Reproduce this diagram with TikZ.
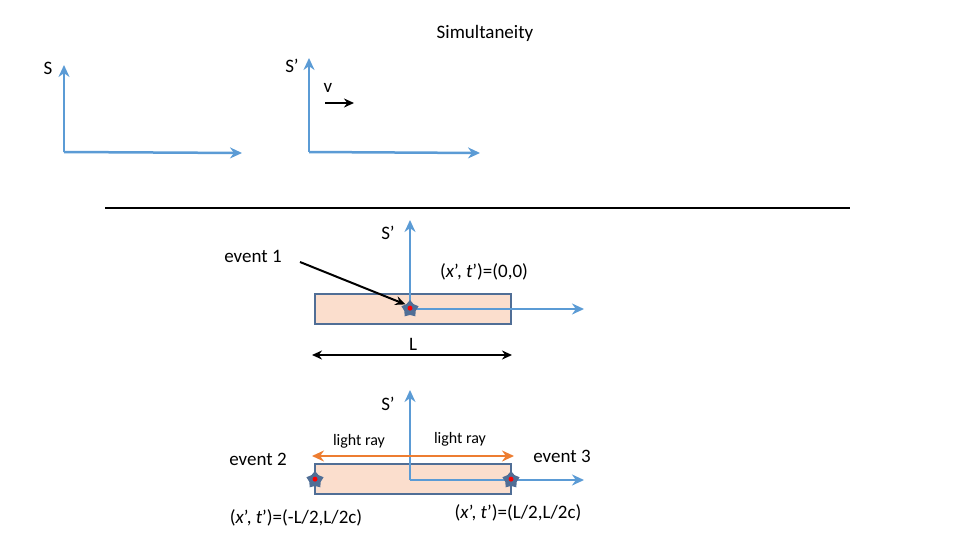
\documentclass[tikz,border=0pt]{standalone}
\usepackage{fontspec}
\setmainfont{Carlito}
\usetikzlibrary{arrows.meta,shapes.geometric}
\definecolor{ax}{RGB}{91,155,213}
\definecolor{peach}{RGB}{251,222,205}
\definecolor{bord}{RGB}{80,110,150}
\definecolor{org}{RGB}{237,125,49}
\tikzset{axis/.style={ax,line width=2.5pt,-{Stealth[length=12pt,width=11pt]}},
blk/.style={black,line width=2pt,-{Stealth[length=10pt,width=9pt]}},
lbl/.style={font=\fontsize{19}{22}\selectfont,inner sep=0pt},
sml/.style={font=\fontsize{16}{18}\selectfont,inner sep=0pt},
bar/.style={draw=bord,fill=peach,line width=1.5pt},
ev/.style={star,star points=5,fill=bord,minimum size=18pt,inner sep=0pt,
 path picture={\fill[red](path picture bounding box.center) circle(2.5pt);}}}
\newcommand{\xt}{(\textit{x}’, \textit{t}’)}
\begin{document}
\begin{tikzpicture}[x=1pt,y=-1pt]
\useasboundingbox (0,0) rectangle (960,540);
\node[lbl] (title) at (485,33) {Simultaneity};
\coordinate (o1) at (64,152);
\coordinate (o1y) at (64,65); \coordinate (o1x) at (242,153);
\draw[axis] (o1) -- (o1y); \draw[axis] (o1) -- (o1x);
\node[lbl] (s1) at (48,68) {S};
\coordinate (o2) at (309,152);
\coordinate (o2y) at (309,58); \coordinate (o2x) at (480,153);
\draw[axis] (o2) -- (o2y); \draw[axis] (o2) -- (o2x);
\node[lbl] (s2) at (292,66) {S’};
\node[lbl] (v) at (328,88) {v};
\coordinate (va) at (325,103); \coordinate (vb) at (354,103);
\draw[blk] (va) -- (vb);
\coordinate (la) at (105,208); \coordinate (lb) at (850,208);
\draw[black,line width=1.2pt] (la) -- (lb);
% middle
\node[bar,minimum width=196pt,minimum height=30pt,inner sep=0pt] (r1) at (413,309) {};
\coordinate (o3) at (410,309);
\coordinate (o3y) at (410,220); \coordinate (o3x) at (584,309);
\draw[axis] (o3) -- (o3y); \draw[axis] (o3) -- (o3x);
\node[ev] (e1) at (o3) {};
\node[lbl] (s3) at (388,233) {S’};
\node[lbl] (c1) at (484,272) {\xt=(0,0)};
\node[lbl] (ev1) at (253,256) {event 1};
\coordinate (ea) at (300,262);
\draw[blk] (ea) -- (e1.north west);
\node[lbl] (L) at (413,344) {L};
\coordinate (da) at (312,355); \coordinate (db) at (512,355);
\draw[black,line width=2pt,{Stealth[length=10pt,width=9pt]}-{Stealth[length=10pt,width=9pt]}] (da) -- (db);
% bottom
\node[bar,minimum width=196pt,minimum height=30pt,inner sep=0pt] (r2) at (413,479) {};
\coordinate (o4) at (410,480);
\coordinate (o4y) at (410,390); \coordinate (o4x) at (584,480);
\draw[axis] (o4) -- (o4y); \draw[axis] (o4) -- (o4x);
\node[lbl] (s4) at (388,404) {S’};
\coordinate (oc) at (411,456);
\coordinate (ol) at (312,456); \coordinate (or) at (514,456);
\draw[org,line width=2.5pt,-{Stealth[length=12pt,width=11pt]}] (oc) -- (ol);
\draw[org,line width=2.5pt,-{Stealth[length=12pt,width=11pt]}] (oc) -- (or);
\node[sml] (lr1) at (359,441) {light ray};
\node[sml] (lr2) at (460,439) {light ray};
\node[lbl] (ev2) at (258,459) {event 2};
\node[lbl] (ev3) at (562,456) {event 3};
\node[ev] (e2) at (315,480) {};
\node[ev] (e3) at (511,480) {};
\node[lbl] (c2) at (296,518) {\xt=(-L/2,L/2c)};
\node[lbl] (c3) at (518,513) {\xt=(L/2,L/2c)};
\end{tikzpicture}
\end{document}
